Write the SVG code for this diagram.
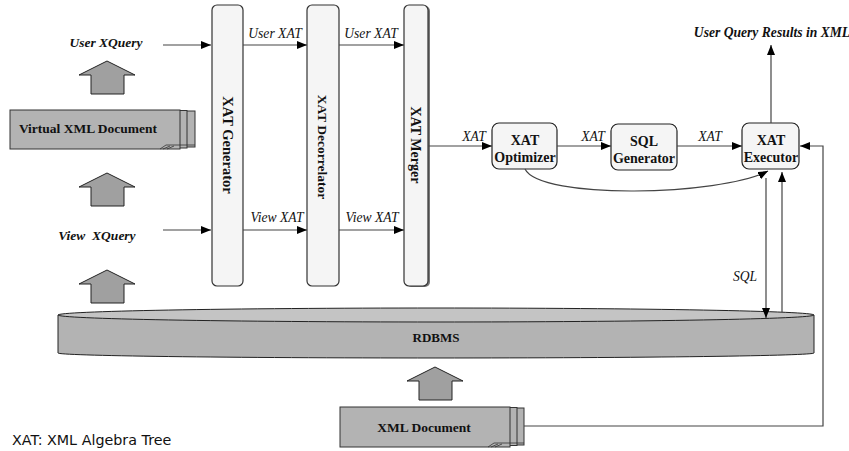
<svg xmlns="http://www.w3.org/2000/svg" width="849" height="451" viewBox="0 0 849 451">
<style>
text{font-family:'Liberation Serif','Times New Roman',serif;fill:#111;}
.b{font-weight:bold;font-size:14px;text-anchor:middle;}
.bi{font-weight:bold;font-style:italic;font-size:13.5px;text-anchor:middle;}
.i{font-style:italic;font-size:13.6px;text-anchor:middle;}
.vbox{fill:#f5f5f5;stroke:#333;stroke-width:1.2;}
.hbox{fill:#f5f5f5;stroke:#222;stroke-width:1.2;}
.up{fill:#a0a0a0;stroke:#222;stroke-width:1;}
.doc{fill:#b3b3b3;stroke:#333;stroke-width:1;}
.c{fill:none;stroke:#444;stroke-width:1.2;}
</style>
<defs>
<marker id="arr" viewBox="0 0 10 8" refX="10" refY="4" markerWidth="10" markerHeight="8" orient="auto" markerUnits="userSpaceOnUse">
<path d="M0,0 L10,4 L0,8 z" fill="#000"/>
</marker>
<path id="uparrow" d="M0,0 L28,14 L17,14 L17,33 L-16,33 L-16,14 L-28,14 Z"/>
</defs>

<g id="user-xquery"><text class="bi" x="106" y="47">User XQuery</text></g>
<g id="view-xquery"><text class="bi" x="97" y="240" xml:space="preserve">View  XQuery</text></g>

<g id="up-arrows">
<use href="#uparrow" class="up" x="107" y="61"/>
<use href="#uparrow" class="up" x="107" y="173"/>
<use href="#uparrow" class="up" x="107" y="270"/>
<use href="#uparrow" class="up" x="435" y="367"/>
</g>

<g id="virtual-xml-document">
<rect class="doc" x="25" y="111" width="170" height="36"/>
<rect class="doc" x="17" y="110.5" width="170" height="37.5"/>
<rect class="doc" x="10" y="110" width="170" height="39"/>
<path d="M160,149 L166,145 L195,145 M163,149 L170,146 M167,149 L174,146" fill="none" stroke="#333" stroke-width="0.8"/>
<text class="b" x="88" y="133" style="font-size:13.5px">Virtual XML Document</text>
</g>

<g id="xat-generator">
<rect class="vbox" x="212" y="5" width="31" height="281" rx="5"/>
<text class="b" transform="translate(227.5,145) rotate(90)" x="0" y="5" style="font-size:14.5px">XAT Generator</text>
</g>
<g id="xat-decorrelator">
<rect class="vbox" x="307" y="5" width="32" height="281" rx="5"/>
<text class="b" transform="translate(323,147) rotate(90)" x="0" y="5" style="font-size:13.5px">XAT Decorrelator</text>
</g>
<g id="xat-merger">
<rect x="406" y="6" width="24" height="281" rx="5" fill="#777"/>
<rect class="vbox" x="404" y="5" width="24" height="281" rx="5"/>
<text class="b" transform="translate(416,145) rotate(90)" x="0" y="5">XAT Merger</text>
</g>

<g id="xat-optimizer">
<rect class="hbox" x="492" y="123" width="65" height="46" rx="7"/>
<text class="b" x="525" y="145">XAT</text>
<text class="b" x="525" y="162">Optimizer</text>
</g>
<g id="sql-generator">
<rect class="hbox" x="611" y="124" width="66" height="46" rx="7"/>
<text class="b" x="644" y="146">SQL</text>
<text class="b" x="644" y="163">Generator</text>
</g>
<g id="xat-executor">
<rect class="hbox" x="742" y="123" width="57" height="46" rx="7"/>
<text class="b" x="771" y="145">XAT</text>
<text class="b" x="771" y="162">Executor</text>
</g>
<g id="results"><text class="bi" x="772" y="37" style="font-size:13.6px">User Query Results in XML</text></g>

<g id="rdbms">
<path d="M58,315 L58,353 A378,5 0 0 0 814,353 L814,315 Z" fill="#b3b3b3" stroke="#222" stroke-width="1"/>
<ellipse cx="436" cy="315" rx="378" ry="7" fill="#c4c4c4" stroke="#222" stroke-width="1"/>
<text class="b" x="436" y="342" style="font-size:13px">RDBMS</text>
</g>

<g id="xml-document">
<rect class="doc" x="354" y="408" width="170" height="37"/>
<rect class="doc" x="347" y="407.5" width="170" height="38"/>
<rect class="doc" x="340" y="407" width="170" height="40"/>
<path d="M488,447 L494,443 L524,443 M491,447 L498,444 M495,447 L502,444" fill="none" stroke="#333" stroke-width="0.8"/>
<text class="b" x="424" y="432" style="font-size:13.5px">XML Document</text>
</g>

<g id="legend"><text x="12" y="445" style="font-family:'DejaVu Sans',Verdana,sans-serif;font-size:14.3px">XAT: XML Algebra Tree</text></g>

<g id="connectors">
<path class="c" d="M163,45 L211,45" marker-end="url(#arr)"/>
<path class="c" d="M163,230 L211,230" marker-end="url(#arr)"/>
<path class="c" d="M243,45 L307,45" marker-end="url(#arr)"/>
<path class="c" d="M339,45 L404,45" marker-end="url(#arr)"/>
<path class="c" d="M243,230 L307,230" marker-end="url(#arr)"/>
<path class="c" d="M339,230 L404,230" marker-end="url(#arr)"/>
<path class="c" d="M428,146 L492,146" marker-end="url(#arr)"/>
<path class="c" d="M557,146 L611,146" marker-end="url(#arr)"/>
<path class="c" d="M677,146 L742,146" marker-end="url(#arr)"/>
<path class="c" d="M771,123 L771,45" marker-end="url(#arr)"/>
<path class="c" d="M525,169 C540,200 720,196 768,171" marker-end="url(#arr)"/>
<path class="c" d="M766,178 L766,318" marker-end="url(#arr)"/>
<path class="c" d="M782,312 L782,172" marker-end="url(#arr)"/>
<path class="c" d="M524,426 L823,426 L823,146 L800,146" marker-end="url(#arr)"/>
<text class="i" x="275" y="38">User XAT</text>
<text class="i" x="371" y="38">User XAT</text>
<text class="i" x="277" y="222">View XAT</text>
<text class="i" x="372" y="222">View XAT</text>
<text class="i" x="474" y="141">XAT</text>
<text class="i" x="593" y="141">XAT</text>
<text class="i" x="710" y="141">XAT</text>
<text class="i" x="745" y="281">SQL</text>
</g>
</svg>
